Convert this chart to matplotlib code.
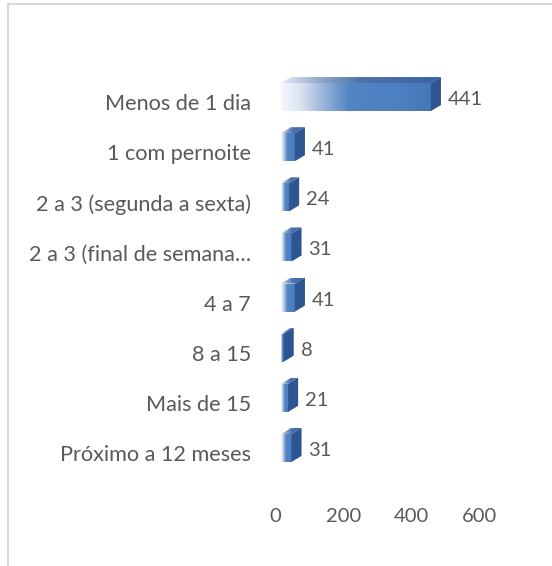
import numpy as np
import matplotlib
matplotlib.use("Agg")
import matplotlib.pyplot as plt
from matplotlib.transforms import ScaledTranslation
from matplotlib.patches import Polygon, Rectangle
from matplotlib.colors import LinearSegmentedColormap
from matplotlib.lines import Line2D

categories = ["Menos de 1 dia", "1 com pernoite", "2 a 3 (segunda a sexta)",
              "2 a 3 (final de semana…", "4 a 7", "8 a 15", "Mais de 15",
              "Próximo a 12 meses"]
values = [441, 41, 24, 31, 41, 8, 21, 31]
xticks = [0, 200, 400, 600]

W, H, DPI = 552, 566, 100
fig = plt.figure(figsize=(W / DPI, H / DPI), dpi=DPI)
plt.rcParams['font.family'] = ['Lato', 'DejaVu Sans']
TXT = '#595959'
FS = 14.5
FS_CAT = 15.6

# axes placement (pixels from top-left)
ax_l, ax_r = 275.5, 479.5
ax_t, ax_b = 72.0, 473.0
ax = fig.add_axes([ax_l / W, 1 - ax_b / H, (ax_r - ax_l) / W, (ax_b - ax_t) / H])
ax.set_xlim(0, 600)
ax.set_ylim(len(categories) - 0.5, -0.5)
for s in ax.spines.values():
    s.set_visible(False)
ax.set_yticks([])
ax.set_xticks(xticks)
ax.set_xticklabels([str(t) for t in xticks], fontsize=FS, color=TXT)
ax.tick_params(axis='x', length=0, pad=25)

sx = (ax_r - ax_l) / 600.0          # px per unit
sy = (ax_b - ax_t) / len(categories)  # px per row
off = ScaledTranslation(5.5 / DPI, 0, fig.dpi_scale_trans)
trans = ax.transData + off

h = 28.0 / sy
dx = 10.0 / sx
dy = 6.0 / sy

front_cmap = LinearSegmentedColormap.from_list(
    'front', [(0, '#f6f8fc'), (0.12, '#dde6f2'), (0.30, '#93afd7'),
              (0.45, '#5385c4'), (0.8, '#4d80c1'), (1.0, '#4577b8')])
top_cmap = LinearSegmentedColormap.from_list(
    'top', [(0, '#e6ebf2'), (0.25, '#8fa7c9'), (0.5, '#4d72aa'), (1.0, '#3a63a2')])
grad = np.linspace(0, 1, 256).reshape(1, -1)

for i, v in enumerate(values):
    y0 = i - h / 2
    y1 = i + h / 2
    # front face
    im = ax.imshow(grad, cmap=front_cmap, aspect='auto', extent=[0, v, y1, y0],
                   transform=trans, interpolation='bilinear', zorder=3)
    rect = Rectangle((0, y0), v, h, transform=trans, facecolor='none', edgecolor='none')
    ax.add_patch(rect)
    im.set_clip_path(rect)
    # top face
    top = Polygon([(0, y0), (v, y0), (v + dx, y0 - dy), (dx, y0 - dy)], closed=True,
                  transform=trans, facecolor='none', edgecolor='none')
    ax.add_patch(top)
    im2 = ax.imshow(grad, cmap=top_cmap, aspect='auto', extent=[0, v + dx, y0, y0 - dy],
                    transform=trans, interpolation='bilinear', zorder=3)
    im2.set_clip_path(top)
    # side face
    side = Polygon([(v, y0), (v + dx, y0 - dy), (v + dx, y1 - dy), (v, y1)], closed=True,
                   transform=trans, facecolor='#2d5592', edgecolor='none', zorder=3)
    ax.add_patch(side)
    # value label
    ax.text(v, i, str(v), transform=ax.transData +
            ScaledTranslation(22.5 / DPI, -2.5 / DPI, fig.dpi_scale_trans),
            ha='left', va='center', fontsize=FS, color=TXT)
    # category label
    ax.text(0, i, categories[i], transform=ax.get_yaxis_transform() +
            ScaledTranslation(-24.5 / DPI, -7.0 / DPI, fig.dpi_scale_trans),
            ha='right', va='center', fontsize=FS_CAT, color=TXT)

ax.set_xlim(0, 600)
ax.set_ylim(len(categories) - 0.5, -0.5)

# chart-area border
fig.add_artist(Line2D([7.5 / W, 7.5 / W], [0, 1 - 3.5 / H], transform=fig.transFigure,
                      color='#d9d9d9', lw=1.5))
fig.add_artist(Line2D([7.5 / W, 1], [1 - 3.5 / H, 1 - 3.5 / H], transform=fig.transFigure,
                      color='#d9d9d9', lw=1.5))

fig.savefig('out.png', dpi=DPI, facecolor='white')
